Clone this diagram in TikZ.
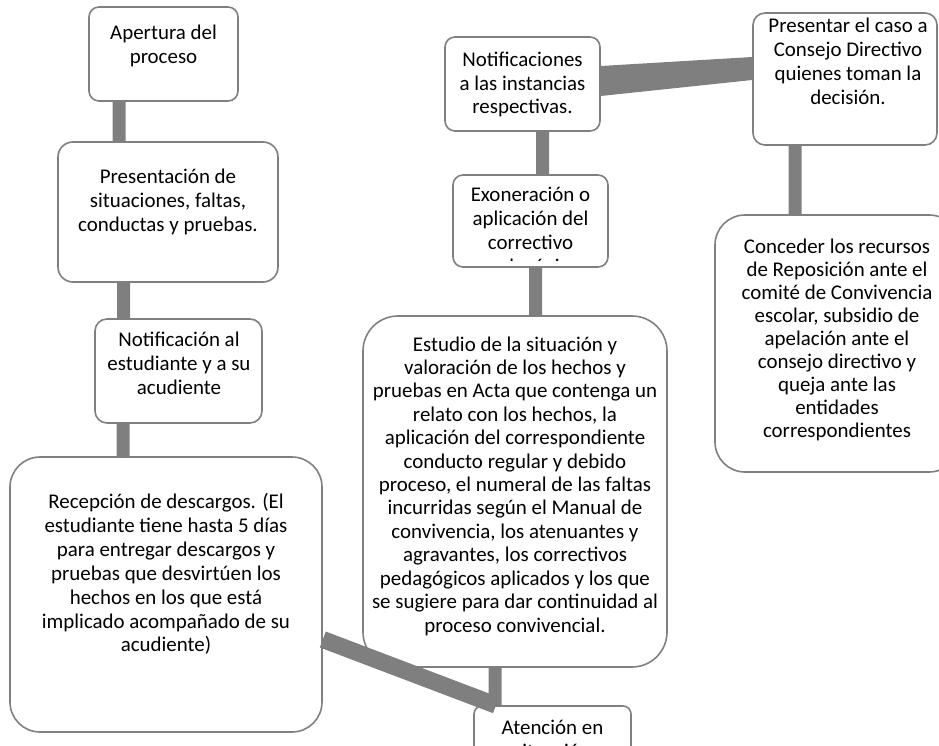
\documentclass[tikz,border=0pt]{standalone}
\usepackage{fontspec}
\setmainfont{Carlito}
\usepackage{xcolor}
\usetikzlibrary{calc}
\usetikzlibrary{positioning}

\definecolor{grisborde}{RGB}{128,128,128}
\definecolor{grisbarra}{RGB}{127,127,127}

\begin{document}
\begin{tikzpicture}[x=1bp,y=-1bp]
	\tikzstyle{caja}=[draw=grisborde, line width=1.6bp, fill=white, rounded corners=10bp, inner sep=0pt]
	\tikzstyle{texto}=[align=center, inner sep=0pt, font=\fontsize{21}{24}\selectfont]
	\tikzstyle{barra}=[draw=grisbarra, line width=13bp]
	\useasboundingbox (0,0) rectangle (939,746);

	% cajas
	\node[caja, minimum width=149bp, minimum height=94bp] (A) at (163.5,54) {};
	\node[caja, rounded corners=15bp, minimum width=220bp, minimum height=140bp] (P) at (168,212) {};
	\node[caja, rounded corners=12bp, minimum width=167bp, minimum height=104bp] (N) at (178.5,371) {};
	\node[caja, rounded corners=30bp, minimum width=312bp, minimum height=275bp] (R) at (166,594.5) {};
	\node[caja, rounded corners=8bp, minimum width=157bp, minimum height=58bp] (T) at (552.5,735) {};
	\node[caja, rounded corners=35bp, minimum width=304bp, minimum height=351bp] (E) at (515,491.5) {};
	\node[caja, minimum width=155bp, minimum height=92bp] (X) at (530.5,221) {};
	\node[caja, minimum width=155bp, minimum height=94bp] (S) at (522.5,84) {};
	\node[caja, rounded corners=12bp, minimum width=184bp, minimum height=132bp] (C) at (845,79) {};
	\node[caja, rounded corners=30bp, minimum width=244bp, minimum height=257bp] (K) at (837,343.5) {};

	% textos
	\node[texto] (A-t) at (163.5,46) {Apertura del\\proceso};
	\node[texto] (P-t) at (168,202) {Presentación de\\situaciones, faltas,\\conductas y pruebas.};
	\node[texto] (N-t) at (179,363) {Notificación al\\estudiante y a su\\acudiente};
	\node[texto] (R-t) at (166,574) {Recepción de descargos. (El\\estudiante tiene hasta 5 días\\para entregar descargos y\\pruebas que desvirtúen los\\hechos en los que está\\implicado acompañado de su\\acudiente)};
	\node[texto] (T-t) at (552.5,739) {Atención en\\situación};
	\node[texto, font=\fontsize{21}{23.5}\selectfont] (E-t) at (515,486) {Estudio de la situación y\\valoración de los hechos y\\pruebas en Acta que contenga un\\relato con los hechos, la\\aplicación del correspondiente\\conducto regular y debido\\proceso, el numeral de las faltas\\incurridas según el Manual de\\convivencia, los atenuantes y\\agravantes, los correctivos\\pedagógicos aplicados y los que\\se sugiere para dar continuidad al\\proceso convivencial.};
	\begin{scope}
		\clip ([yshift=7bp]X.south west) rectangle (X.north east);
		\node[texto] (X-t) at (530.5,232) {Exoneración o\\aplicación del\\correctivo\\pedagógico};
	\end{scope}
	\node[texto] (S-t) at (522.5,84.5) {Notificaciones\\a las instancias\\respectivas.};
	\node[texto] (C-t) at (848,61.5) {Presentar el caso a\\Consejo Directivo\\quienes toman la\\decisión.};
	\node[texto, font=\fontsize{21}{23}\selectfont] (K-t) at (837,340) {Conceder los recursos\\de Reposición ante el\\comité de Convivencia\\escolar, subsidio de\\apelación ante el\\consejo directivo y\\queja ante las\\entidades\\correspondientes};

	% conectores
	\draw[barra] ([xshift=-44.5bp]A.south) -- ([xshift=-49bp]P.north);
	\draw[barra] ([xshift=-44.5bp]P.south) -- ([xshift=-55bp]N.north);
	\draw[barra] ([xshift=-55.5bp]N.south) -- ([xshift=-43bp]R.north);
	\draw[barra, line width=17bp] ([yshift=-45bp]R.east) -- ([xshift=-56.5bp]T.north);
	\draw[barra] ([xshift=-20bp]E.south) -- ([xshift=-57.5bp]T.north);
	\draw[barra] ([xshift=5bp]X.south) -- ([xshift=20.5bp]E.north);
	\draw[barra] ([xshift=20bp]S.south) -- ([xshift=12bp]X.north);
	\fill[grisbarra] ([yshift=18bp]S.east) -- ([yshift=22bp]C.west) -- ([yshift=-1bp]C.west) -- ([yshift=-12bp]S.east) -- cycle;
	\draw[barra] ([xshift=-50bp]C.south) -- ([xshift=-42bp]K.north);
\end{tikzpicture}
\end{document}
